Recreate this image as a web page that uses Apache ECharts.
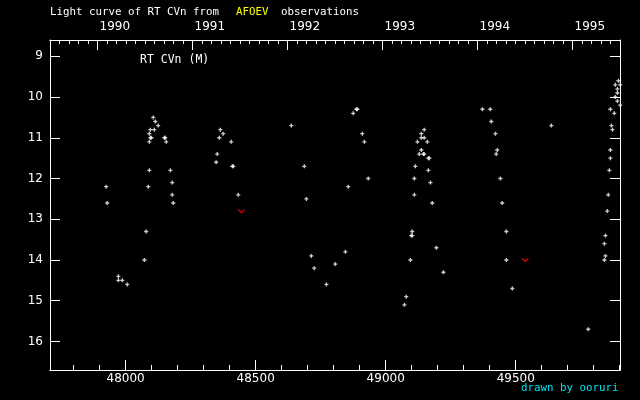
<!DOCTYPE html>
<html><head><meta charset="utf-8">
<script src="https://cdn.jsdelivr.net/npm/echarts@6/dist/echarts.min.js"></script>
<style>html,body{margin:0;padding:0;background:#000}#c{width:640px;height:400px}</style>
</head><body><div id="c"></div>
<script>
// Observations (JD - 2400000, visual magnitude)
const obsJD = [
  47925,47929,47972,47972,47987,48006,48072,48079,48087,48091,48091,48091,48095,48095,48099,
  48106,48110,48114,48125,48149,48152,48156,48172,48179,48179,48183,
  48348,48352,48360,48364,48375,48406,48410,48414,48433,
  48637,48687,48695,48714,48725,48772,48806,48845,48856,48875,48887,48891,48910,48918,48933,
  49072,49079,49095,49098,49102,49102,49110,49110,49114,49122,49129,49137,49137,49137,49145,49148,
  49148,49148,49160,49164,49168,49164,49172,49179,49195,49222,
  49372,49402,49406,49422,49429,49425,49441,49448,49464,49464,49487,49637,49779,
  49841,49845,49841,49845,49852,49856,49860,49864,49864,49872,49868,49879,49864,49902,49891,
  49883,49891,49891,49902,49883,49895
];
const obsMag = [
  12.2,12.6,14.4,14.5,14.5,14.6,14.0,13.3,12.2,11.8,11.1,10.9,10.8,11.0,11.0,
  10.5,10.8,10.6,10.7,11.0,11.0,11.1,11.8,12.1,12.4,12.6,
  11.6,11.4,11.0,10.8,10.9,11.1,11.7,11.7,12.4,
  10.7,11.7,12.5,13.9,14.2,14.6,14.1,13.8,12.2,10.4,10.3,10.3,10.9,11.1,12.0,
  15.1,14.9,14.0,13.4,13.4,13.3,12.4,12.0,11.7,11.1,11.4,11.3,11.0,10.9,11.4,11.4,
  10.8,11.0,11.1,11.5,11.5,11.8,12.1,12.6,13.7,14.3,
  10.3,10.3,10.6,10.9,11.3,11.4,12.0,12.6,13.3,14.0,14.7,10.7,15.7,
  14.0,13.9,13.6,13.4,12.8,12.4,11.8,11.5,11.3,10.8,10.7,10.4,10.3,10.2,10.1,
  10.0,9.9,9.8,9.7,9.7,9.6
];
// "fainter than" upper limits
const limJD = [48445, 49537];
const limMag = [12.8, 14.0];

// axes
const jdMajorTicks = [48000, 48500, 49000, 49500];
const yearTicks = [1990, 1991, 1992, 1993, 1994, 1995];
const magTicks = [9, 10, 11, 12, 13, 14, 15, 16];

const jdMin = 47709, jdMax = 49901;
const yrMin = 1989.5, yrMax = 1995.5;
const magMin = 8.6, magMax = 16.7;

const jdMinorTicks = [];
for (let v = 47800; v <= 49900; v += 100) jdMinorTicks.push(v);
const yearMinorTicks = [];
for (let i = 1; i < 60; i++) yearMinorTicks.push(Math.round((yrMin + i * 0.1) * 10) / 10);

const W = '#ffffff';
const numFont = 'DejaVu Sans';
const txtFont = 'DejaVu Sans Mono';
const plain = v => String(v);

const chart = echarts.init(document.getElementById('c'), null, {renderer: 'canvas'});
const plusPath = 'path://M1 0H2V1H3V2H2V3H1V2H0V1H1Z';

function xAx(pos, min, max, ticks, len, labels) {
  return {
    type: 'value', position: pos, min: min, max: max, gridIndex: 0,
    axisLine: {show: true, onZero: false, lineStyle: {color: W, width: 1}},
    axisTick: {show: true, inside: true, length: len, customValues: ticks, lineStyle: {color: W, width: 1}},
    axisLabel: labels ? Object.assign({show: true, customValues: ticks, formatter: plain, color: W, fontFamily: numFont, fontSize: 12}, labels) : {show: false},
    splitLine: {show: false}
  };
}

chart.setOption({
  backgroundColor: '#000000',
  animation: false,
  grid: {left: 50, top: 40, width: 570, height: 330, containLabel: false},
  xAxis: [
    xAx('bottom', jdMin, jdMax, jdMajorTicks, 10, {margin: 3}),
    xAx('bottom', jdMin, jdMax, jdMinorTicks, 5, null),
    xAx('top', yrMin, yrMax, yearTicks, 10, {margin: 7, align: 'left', padding: [0, 0, 0, 2]}),
    xAx('top', yrMin, yrMax, yearMinorTicks, 4, null)
  ],
  yAxis: [
    {
      type: 'value', position: 'left', inverse: true, min: magMin, max: magMax,
      axisLine: {show: true, onZero: false, lineStyle: {color: W, width: 1}},
      axisTick: {show: true, inside: true, length: 10, customValues: magTicks, lineStyle: {color: W}},
      axisLabel: {show: true, customValues: magTicks, formatter: plain, color: W, fontFamily: numFont, fontSize: 12, margin: 7},
      splitLine: {show: false}
    },
    {
      type: 'value', position: 'right', inverse: true, min: magMin, max: magMax,
      axisLine: {show: true, onZero: false, lineStyle: {color: W, width: 1}},
      axisTick: {show: true, inside: true, length: 10, customValues: magTicks, lineStyle: {color: W}},
      axisLabel: {show: false},
      splitLine: {show: false}
    }
  ],
  series: [
    {
      type: 'scatter', xAxisIndex: 0, yAxisIndex: 0, clip: false,
      symbol: plusPath, symbolSize: 4,
      itemStyle: {color: W},
      data: obsJD.map((d, i) => [d, obsMag[i]])
    },
    {
      type: 'scatter', xAxisIndex: 0, yAxisIndex: 0, clip: false,
      symbol: 'path://M0 0L3 3L6 0', symbolSize: [6, 3],
      itemStyle: {color: 'rgba(0,0,0,0)', borderColor: '#ff0000', borderWidth: 1.3},
      data: limJD.map((d, i) => [d, limMag[i]])
    }
  ],
  graphic: [
    {type: 'text', left: 50, top: 7, style: {text: 'Light curve of RT CVn from', fill: W, font: '10.8px ' + txtFont}},
    {type: 'text', left: 236, top: 7, style: {text: 'AFOEV', fill: '#ffff00', font: '10.8px ' + txtFont}},
    {type: 'text', left: 281, top: 7, style: {text: 'observations', fill: W, font: '10.8px ' + txtFont}},
    {type: 'text', left: 140, top: 54, style: {text: 'RT CVn (M)', fill: W, font: '11.5px ' + txtFont}},
    {type: 'text', left: 521, top: 383, style: {text: 'drawn by ooruri', fill: '#00e0f0', font: '10.8px ' + txtFont}}
  ]
});
</script>
</body></html>
